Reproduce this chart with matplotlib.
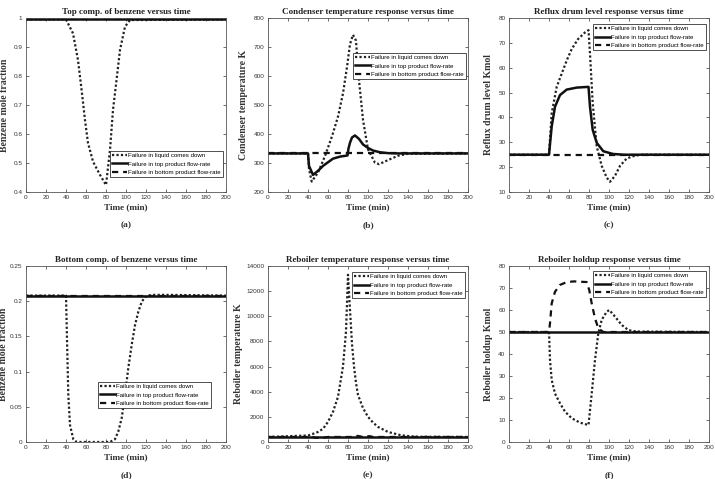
import matplotlib.pyplot as plt

plt.rcParams['font.family'] = ['Liberation Sans', 'DejaVu Sans']

labels = ["Failure in liquid comes down",
          "Failure in top product flow-rate",
          "Failure in bottom product flow-rate"]

# (a) top composition of benzene
a_liq_t = [0, 40, 47, 52, 56, 59, 62, 67, 74, 80, 84, 87, 91, 94, 99, 104, 200]
a_liq_y = [0.995, 0.995, 0.947, 0.855, 0.74, 0.648, 0.569, 0.505, 0.459, 0.424,
           0.545, 0.683, 0.80, 0.89, 0.97, 0.993, 0.995]
a_top_t = [0, 200]
a_top_y = [0.995, 0.995]
a_bot_t = [0, 200]
a_bot_y = [0.995, 0.995]

# (b) condenser temperature
b_liq_t = [0, 40, 41, 43.7, 50, 57, 64, 70, 75, 79, 82, 85, 88, 90, 95, 100, 107,
           111, 120, 130, 140, 200]
b_liq_y = [333, 333, 280, 236, 267, 324, 392, 460, 540, 631, 710, 742, 722, 619,
           449, 347, 301, 296, 310, 325, 332, 333]
b_top_t = [0, 40, 41, 45, 50, 55, 65, 72, 79.5, 80.5, 82, 84, 87, 91, 95, 100,
           105, 112, 120, 130, 200]
b_top_y = [333, 333, 290, 259, 273, 290, 315, 322, 326, 350, 370, 388, 395, 383,
           364, 352, 343, 337, 334, 333, 333]
b_bot_t = [0, 200]
b_bot_y = [333, 333]

# (c) reflux drum level
c_liq_t = [0, 40, 42.7, 47.7, 52.7, 57.7, 62.7, 69, 76, 79.5, 81, 83.7, 87.7, 92.7,
           97.7, 101, 106, 111, 117.7, 125, 132, 200]
c_liq_y = [25, 25, 41.7, 52.3, 57.6, 62.9, 67.5, 71.5, 74.2, 75.1, 65.6, 45.8, 28.4,
           20.5, 15.8, 14.1, 16.5, 20.5, 23.5, 24.5, 25, 25]
c_top_t = [0, 40, 42.7, 46, 51, 57.7, 67.7, 79.5, 81, 83.7, 87.7, 94.3, 104, 115, 200]
c_top_y = [25, 25, 36.4, 44.3, 49, 51.2, 52, 52.3, 44.3, 35, 29.8, 26.4, 25.3, 25, 25]
c_bot_t = [0, 200]
c_bot_y = [25, 25]

# (d) bottom composition of benzene
d_liq_t = [0, 40, 41.3, 42.3, 44, 47.3, 50.7, 84, 89, 92.3, 95.7, 99, 102.3, 105.7,
           109, 112.3, 115.7, 119, 125, 140, 200]
d_liq_y = [0.208, 0.208, 0.128, 0.067, 0.024, 0.004, 0.0, 0.0, 0.004, 0.015, 0.034,
           0.067, 0.105, 0.138, 0.166, 0.185, 0.199, 0.206, 0.209, 0.209, 0.208]
d_top_t = [0, 200]
d_top_y = [0.208, 0.208]
d_bot_t = [0, 200]
d_bot_y = [0.208, 0.208]

# (e) reboiler temperature
e_liq_t = [0, 40, 45, 50, 55, 60, 65, 70, 75, 78, 80, 82, 84, 86, 88, 90, 95, 100,
           105, 110, 120, 133, 147, 200]
e_liq_y = [400, 520, 650, 800, 1050, 1600, 2400, 3600, 6000, 8800, 13300, 10500,
           7800, 6000, 4700, 3740, 2700, 2000, 1550, 1200, 800, 535, 420, 400]
e_top_t = [0, 200]
e_top_y = [400, 400]
e_bot_t = [0, 45, 47, 55, 60, 84, 86, 90, 95, 97, 102, 105, 200]
e_bot_y = [400, 400, 330, 330, 400, 400, 480, 480, 400, 460, 460, 400, 400]

# (f) reboiler holdup
f_liq_t = [0, 40, 41, 42.7, 46, 51, 56, 62.7, 71, 79.5, 82.7, 86, 89.3, 92.7, 97.7,
           100.3, 106, 112.7, 119.3, 127, 200]
f_liq_y = [50, 50, 37.3, 28.2, 22, 17.6, 13.8, 10.8, 8.8, 7.7, 22, 37.3, 49.4, 55.5,
           59.2, 60, 57, 53.2, 50.9, 50.2, 50]
f_top_t = [0, 200]
f_top_y = [50, 50]
f_bot_t = [0, 40, 41, 42.7, 46, 51, 57.7, 65, 77.7, 80.3, 82.7, 86, 89.3, 94.3, 200]
f_bot_y = [50, 50, 54, 63, 68.3, 71.4, 72.7, 73, 72.7, 69, 63, 56.2, 51.7, 50, 50]

panels = [
    dict(liq=(a_liq_t, a_liq_y), top=(a_top_t, a_top_y), bot=(a_bot_t, a_bot_y),
         title="Top comp. of benzene versus time", ylabel="Benzene mole fraction",
         ylim=(0.4, 1.0), yticks=[0.4, 0.5, 0.6, 0.7, 0.8, 0.9, 1],
         yfmt=["0.4", "0.5", "0.6", "0.7", "0.8", "0.9", "1"],
         leg=("lower right", (0.985, 0.086)), tag="(a)", ylx=-0.085),
    dict(liq=(b_liq_t, b_liq_y), top=(b_top_t, b_top_y), bot=(b_bot_t, b_bot_y),
         title="Condenser temperature response versus time",
         ylabel="Condenser temperature K", ylim=(200, 800),
         yticks=[200, 300, 400, 500, 600, 700, 800], yfmt=None,
         leg=("upper right", (0.99, 0.80)), tag="(b)", ylx=-0.1),
    dict(liq=(c_liq_t, c_liq_y), top=(c_top_t, c_top_y), bot=(c_bot_t, c_bot_y),
         title="Reflux drum level response versus time",
         ylabel="Reflux drum level Kmol", ylim=(10, 80),
         yticks=[10, 20, 30, 40, 50, 60, 70, 80], yfmt=None,
         leg=("upper right", (0.985, 0.966)), tag="(c)", ylx=-0.08),
    dict(liq=(d_liq_t, d_liq_y), top=(d_top_t, d_top_y), bot=(d_bot_t, d_bot_y),
         title="Bottom comp. of benzene versus time", ylabel="Benzene mole fraction",
         ylim=(0, 0.25), yticks=[0, 0.05, 0.1, 0.15, 0.2, 0.25],
         yfmt=["0", "0.05", "0.1", "0.15", "0.2", "0.25"],
         leg=("lower right", (0.925, 0.193)), tag="(d)", ylx=-0.088),
    dict(liq=(e_liq_t, e_liq_y), top=(e_top_t, e_top_y), bot=(e_bot_t, e_bot_y),
         title="Reboiler temperature response versus time",
         ylabel="Reboiler temperature K", ylim=(0, 14000),
         yticks=[0, 2000, 4000, 6000, 8000, 10000, 12000, 14000], yfmt=None,
         leg=("upper right", (0.985, 0.966)), tag="(e)", ylx=-0.125),
    dict(liq=(f_liq_t, f_liq_y), top=(f_top_t, f_top_y), bot=(f_bot_t, f_bot_y),
         title="Reboiler holdup response versus time",
         ylabel="Reboiler holdup Kmol", ylim=(0, 80),
         yticks=[0, 10, 20, 30, 40, 50, 60, 70, 80], yfmt=None,
         leg=("upper right", (0.985, 0.972)), tag="(f)", ylx=-0.08),
]

W, H = 715, 479
lefts = [26, 268, 509]
rows = [(18, 192), (266, 442)]

fig = plt.figure(figsize=(W / 100, H / 100), dpi=100)
serif = dict(family="Liberation Serif", fontweight="bold")

for i, p in enumerate(panels):
    r, c = divmod(i, 3)
    top, bottom = rows[r]
    ax = fig.add_axes([lefts[c] / W, 1 - bottom / H, 200 / W, (bottom - top) / H])
    ax.plot(*p["liq"], color="#222222", linestyle=(0, (1, 1)), lw=1.6, label=labels[0])
    ax.plot(*p["top"], color="#111111", linestyle="-", lw=1.8, label=labels[1])
    ax.plot(*p["bot"], color="#111111", linestyle=(0, (2.8, 2.2)), lw=1.6, label=labels[2])
    ax.set_xlim(0, 200)
    ax.set_ylim(*p["ylim"])
    ax.set_xticks(range(0, 201, 20))
    ax.set_yticks(p["yticks"])
    if p["yfmt"]:
        ax.set_yticklabels(p["yfmt"])
    ax.tick_params(direction="in", length=2, width=0.5, labelsize=4.6,
                   colors="#333333", pad=2.5, top=True, right=True)
    for s in ax.spines.values():
        s.set_linewidth(0.6)
        s.set_color("#555555")
    ax.set_title(p["title"], fontsize=6.5, pad=3, color="#222222", **serif)
    ax.set_xlabel("Time (min)", fontsize=6.6, labelpad=2, color="#333333", **serif)
    ax.set_ylabel(p["ylabel"], fontsize=7, color="#333333", **serif)
    ax.yaxis.set_label_coords(p["ylx"], 0.5)
    leg = ax.legend(loc=p["leg"][0], bbox_to_anchor=p["leg"][1], fontsize=4.4,
                    fancybox=False, framealpha=1, edgecolor="#333333",
                    handlelength=2.4, handletextpad=0.2, borderpad=0.35,
                    labelspacing=0.5, borderaxespad=0)
    leg.get_frame().set_linewidth(0.6)
    ax.text(0.5, -0.19, p["tag"], transform=ax.transAxes, ha="center", va="center",
            fontsize=6.8, color="#333333", **serif)

fig.savefig("out.png", dpi=100)
